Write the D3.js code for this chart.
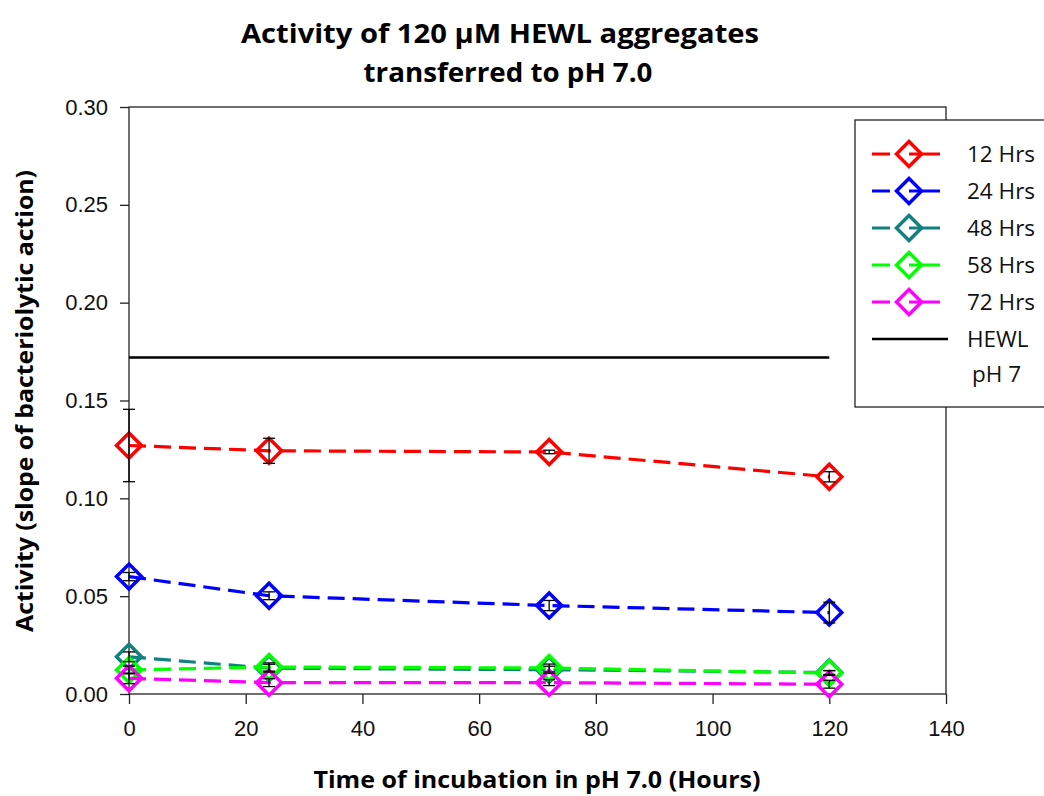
<!DOCTYPE html>
<html>
<head>
<meta charset="utf-8">
<script src="https://cdn.jsdelivr.net/npm/d3@7"></script>
<style>
  html, body { margin: 0; padding: 0; background: #fff; }
  svg { display: block; }
</style>
</head>
<body>
<svg id="chart" width="1044" height="796"></svg>
<script>
// Incubation time after transfer to pH 7.0 (hours)
const hours = [0, 24, 72, 120];

// Mean activity per incubation group, with error bar half-widths
const act12 = [0.127, 0.1243, 0.1237, 0.111];
const err12 = [0.0185, 0.0064, 0.0009, 0.0026];
const act24 = [0.0600, 0.0502, 0.0452, 0.0416];
const err24 = [0.0021, 0.0020, 0.0026, 0.0053];
const act48 = [0.0190, 0.0132, 0.0124, 0.0110];
const err48 = [0.0025, 0.0020, 0.0018, 0.0010];
const act58 = [0.0123, 0.0138, 0.0133, 0.0107];
const err58 = [0.0020, 0.0021, 0.0020, 0.0012];
const act72 = [0.0080, 0.0058, 0.0058, 0.0050];
const err72 = [0.0027, 0.0020, 0.0015, 0.0020];

const seriesNames = ["12 Hrs", "24 Hrs", "48 Hrs", "58 Hrs", "72 Hrs"];
const seriesColors = ["#ff0000", "#0000ff", "#138080", "#00ff00", "#ff00ff"];

// Reference activity of native HEWL at pH 7
const hewlRef = 0.172;
const hewlRange = [0, 120];

const xTicks = [0, 20, 40, 60, 80, 100, 120, 140];
const yTicks = [0, 0.05, 0.10, 0.15, 0.20, 0.25, 0.30];

const series = [
  { name: seriesNames[0], color: seriesColors[0], values: act12, errors: err12 },
  { name: seriesNames[1], color: seriesColors[1], values: act24, errors: err24 },
  { name: seriesNames[2], color: seriesColors[2], values: act48, errors: err48 },
  { name: seriesNames[3], color: seriesColors[3], values: act58, errors: err58 },
  { name: seriesNames[4], color: seriesColors[4], values: act72, errors: err72 }
];

const svg = d3.select("#chart");
const plot = { left: 129, right: 946, top: 107, bottom: 694 };

const x = d3.scaleLinear().domain([0, 140]).range([plot.left, plot.right]);
const y = d3.scaleLinear().domain([0, 0.30]).range([plot.bottom, plot.top]);

const tickFont = "'Liberation Sans', Arial, sans-serif";
const boldFont = "'Open Sans', 'Noto Sans', sans-serif";

// Title
const title = svg.append("g")
  .attr("font-family", boldFont)
  .attr("font-weight", "bold")
  .attr("font-size", 27)
  .attr("fill", "#000")
  .attr("text-anchor", "middle");
title.append("text").attr("x", 500).attr("y", 43)
  .attr("textLength", 518).attr("lengthAdjust", "spacingAndGlyphs")
  .text("Activity of 120 \u03BCM HEWL aggregates");
title.append("text").attr("x", 508).attr("y", 82)
  .attr("textLength", 289).attr("lengthAdjust", "spacingAndGlyphs")
  .text("transferred to pH 7.0");

// Axes
const yAxis = svg.append("g")
  .attr("transform", `translate(${plot.left},0)`)
  .call(d3.axisLeft(y).tickValues(yTicks).tickSize(9).tickPadding(12).tickFormat(d3.format(".2f")));
const xAxis = svg.append("g")
  .attr("transform", `translate(0,${plot.bottom})`)
  .call(d3.axisBottom(x).tickValues(xTicks).tickSize(10).tickPadding(16).tickFormat(d3.format("d")));

[yAxis, xAxis].forEach(a => {
  a.select(".domain").remove();
  a.selectAll(".tick line").attr("stroke", "#222").attr("stroke-width", 1.3);
  a.selectAll(".tick text")
    .attr("font-family", tickFont)
    .attr("font-size", 22)
    .attr("fill", "#111");
});

// Frame around the plotting area
svg.append("rect")
  .attr("x", plot.left).attr("y", plot.top)
  .attr("width", plot.right - plot.left).attr("height", plot.bottom - plot.top)
  .attr("fill", "none").attr("stroke", "#222").attr("stroke-width", 1.3);

// Axis titles
svg.append("text")
  .attr("x", 537).attr("y", 788)
  .attr("text-anchor", "middle")
  .attr("font-family", boldFont).attr("font-weight", "bold").attr("font-size", 24)
  .attr("textLength", 447).attr("lengthAdjust", "spacingAndGlyphs")
  .text("Time of incubation in pH 7.0 (Hours)");
svg.append("text")
  .attr("transform", "translate(33,401) rotate(-90)")
  .attr("text-anchor", "middle")
  .attr("font-family", boldFont).attr("font-weight", "bold").attr("font-size", 24)
  .attr("textLength", 462).attr("lengthAdjust", "spacingAndGlyphs")
  .text("Activity (slope of bacteriolytic action)");

// HEWL reference line
svg.append("line")
  .attr("x1", x(hewlRange[0])).attr("x2", x(hewlRange[1]))
  .attr("y1", y(hewlRef)).attr("y2", y(hewlRef))
  .attr("stroke", "#000").attr("stroke-width", 2.4);

const diamond = r => `M0,${-r}L${r},0L0,${r}L${-r},0Z`;
const line = d3.line().x(d => x(d[0])).y(d => y(d[1]));

const groups = svg.append("g").selectAll("g").data(series).join("g");

groups.append("path")
  .attr("d", s => line(hours.map((h, i) => [h, s.values[i]])))
  .attr("fill", "none")
  .attr("stroke", s => s.color)
  .attr("stroke-width", 3.2)
  .attr("stroke-dasharray", "17,8");

groups.selectAll("path.marker")
  .data(s => hours.map((h, i) => ({ h, v: s.values[i], color: s.color })))
  .join("path")
  .attr("class", "marker")
  .attr("transform", d => `translate(${x(d.h)},${y(d.v)})`)
  .attr("d", diamond(12.5))
  .attr("fill", "none")
  .attr("stroke", d => d.color)
  .attr("stroke-width", 3.5);

// Error bars
const errData = series.flatMap(s => hours.map((h, i) => ({ h, v: s.values[i], e: s.errors[i] })));
const eb = svg.append("g").attr("stroke", "#000").attr("stroke-width", 1.3)
  .selectAll("g").data(errData).join("g");
eb.append("line")
  .attr("x1", d => x(d.h)).attr("x2", d => x(d.h))
  .attr("y1", d => y(d.v - d.e)).attr("y2", d => y(d.v + d.e));
eb.append("line")
  .attr("x1", d => x(d.h) - 6).attr("x2", d => x(d.h) + 6)
  .attr("y1", d => y(d.v - d.e)).attr("y2", d => y(d.v - d.e));
eb.append("line")
  .attr("x1", d => x(d.h) - 6).attr("x2", d => x(d.h) + 6)
  .attr("y1", d => y(d.v + d.e)).attr("y2", d => y(d.v + d.e));

// Legend
const legend = svg.append("g");
legend.append("rect")
  .attr("x", 855).attr("y", 120).attr("width", 200).attr("height", 287)
  .attr("fill", "#fff").attr("stroke", "#222").attr("stroke-width", 1.3);

const rowY = i => 154 + i * 37;
const items = legend.selectAll("g.item").data(series).join("g")
  .attr("class", "item")
  .attr("transform", (d, i) => `translate(0,${rowY(i)})`);
items.append("line").attr("x1", 872).attr("x2", 890).attr("y1", 0).attr("y2", 0)
  .attr("stroke", d => d.color).attr("stroke-width", 3);
items.append("line").attr("x1", 909).attr("x2", 940).attr("y1", 0).attr("y2", 0)
  .attr("stroke", d => d.color).attr("stroke-width", 3);
items.append("path").attr("transform", "translate(909,0)").attr("d", diamond(12.5))
  .attr("fill", "none").attr("stroke", d => d.color).attr("stroke-width", 3.5);
items.append("text").attr("x", 967).attr("y", 0).attr("dy", "0.36em")
  .attr("font-family", boldFont).attr("font-size", 22.5).attr("fill", "#111")
  .text(d => d.name);

legend.append("line").attr("x1", 872).attr("x2", 948).attr("y1", rowY(5)).attr("y2", rowY(5))
  .attr("stroke", "#000").attr("stroke-width", 2.4);
legend.append("text").attr("x", 967).attr("y", rowY(5)).attr("dy", "0.36em")
  .attr("font-family", boldFont).attr("font-size", 22.5).attr("fill", "#111")
  .text("HEWL");
legend.append("text").attr("x", 972).attr("y", rowY(5) + 35).attr("dy", "0.36em")
  .attr("font-family", boldFont).attr("font-size", 22.5).attr("fill", "#111")
  .text("pH 7");
</script>
</body>
</html>
